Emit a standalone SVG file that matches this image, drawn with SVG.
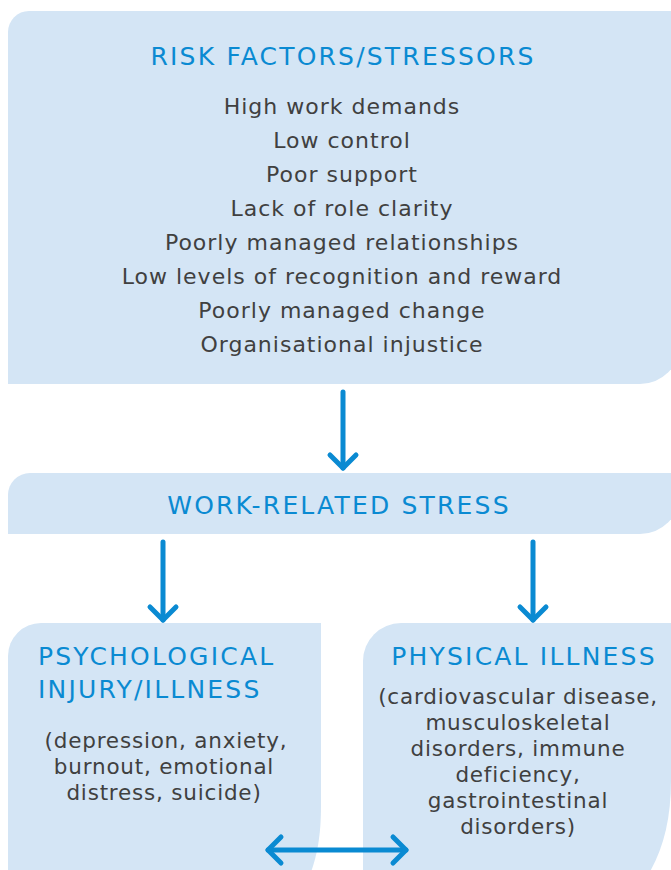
<svg xmlns="http://www.w3.org/2000/svg" width="671" height="870" viewBox="0 0 671 870">
<style>
.box{fill:#d4e5f5}
.h{font-family:"DejaVu Sans","Liberation Sans",sans-serif;font-size:25px;fill:#0a8ad2;letter-spacing:2.2px}
.t{font-family:"DejaVu Sans","Liberation Sans",sans-serif;font-size:22px;fill:#404040;letter-spacing:1px}
.s{font-size:21.5px;letter-spacing:0.8px}
.c{text-anchor:middle}
.arr{stroke:#0a8ad2;stroke-width:5;fill:none;stroke-linecap:round}
</style>
<defs>
<marker id="head" viewBox="-20 -20 40 40" refX="0" refY="0" markerWidth="40" markerHeight="40" markerUnits="userSpaceOnUse" orient="auto-start-reverse" overflow="visible">
<path d="M-13,-13 L0,0 L-13,13" fill="none" stroke="#0a8ad2" stroke-width="5" stroke-linecap="round" stroke-linejoin="round"/>
</marker>
</defs>
<g id="risk-factors">
<path class="box" d="M8,32 A21,21 0 0 1 29,11 H680 V344 A40,40 0 0 1 640,384 H8 Z"/>
<text class="h c" x="343" y="65">RISK FACTORS/STRESSORS</text>
<text class="t c" x="342" y="114">High work demands</text>
<text class="t c" x="342" y="148">Low control</text>
<text class="t c" x="342" y="182">Poor support</text>
<text class="t c" x="342" y="216">Lack of role clarity</text>
<text class="t c" x="342" y="250">Poorly managed relationships</text>
<text class="t c" x="342" y="284">Low levels of recognition and reward</text>
<text class="t c" x="342" y="318">Poorly managed change</text>
<text class="t c" x="342" y="352">Organisational injustice</text>
</g>
<g id="work-related-stress">
<path class="box" d="M8,495 A22,22 0 0 1 30,473 H680 V494 A40,40 0 0 1 640,534 H8 Z"/>
<text class="h c" x="339" y="514">WORK-RELATED STRESS</text>
</g>
<g id="psychological">
<path class="box" d="M8,656 A33,33 0 0 1 41,623 H321 V805 C321,840 316,858 310,875 H8 Z"/>
<text class="h" x="38" y="665">PSYCHOLOGICAL</text>
<text class="h" x="38" y="698">INJURY/ILLNESS</text>
<text class="t s c" x="166" y="748">(depression, anxiety,</text>
<text class="t s c" x="164" y="774">burnout, emotional</text>
<text class="t s c" x="164" y="800">distress, suicide)</text>
</g>
<g id="physical">
<path class="box" d="M363,661 A38,38 0 0 1 401,623 H671 V780 C671,820 663,850 648,875 H363 Z"/>
<text class="h c" x="524" y="665">PHYSICAL ILLNESS</text>
<text class="t s c" x="518" y="704">(cardiovascular disease,</text>
<text class="t s c" x="518" y="730">musculoskeletal</text>
<text class="t s c" x="518" y="756">disorders, immune</text>
<text class="t s c" x="518" y="782">deficiency,</text>
<text class="t s c" x="518" y="808">gastrointestinal</text>
<text class="t s c" x="518" y="834">disorders)</text>
</g>
<g id="connectors">
<path class="arr" d="M343,392 V468" marker-end="url(#head)"/>
<path class="arr" d="M163,542 V620" marker-end="url(#head)"/>
<path class="arr" d="M533,542 V620" marker-end="url(#head)"/>
<path class="arr" d="M268,850 H406" marker-start="url(#head)" marker-end="url(#head)"/>
</g>
</svg>
